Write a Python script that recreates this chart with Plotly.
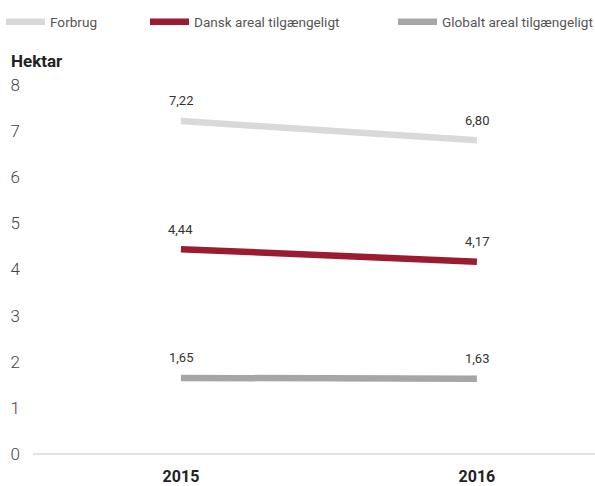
import plotly.graph_objects as go

years = ["2015", "2016"]
forbrug = [7.22, 6.80]
dansk = [4.44, 4.17]
globalt = [1.65, 1.63]
series_names = ["Forbrug", "Dansk areal tilgængeligt", "Globalt areal tilgængeligt"]
colors = ["#d9d9d9", "#9b1b30", "#a6a6a6"]

fig = go.Figure()
legend_keys = ["legend", "legend2", "legend3"]
xs = [0, 1]
for name, vals, col, lk in zip(series_names, [forbrug, dansk, globalt], colors, legend_keys):
    fig.add_trace(go.Scatter(
        x=xs, y=vals, name=name, mode="lines",
        line=dict(color=col, width=6.5),
        legend=lk, hoverinfo="skip",
    ))
    for xi, v in zip(xs, vals):
        fig.add_annotation(
            x=xi, y=v, text=f"{v:.2f}".replace(".", ","),
            showarrow=False, yshift=20,
            font=dict(family="Roboto", size=13, color="#333"),
        )

W = 562.0
H = 369.0
def px2paper(px):
    return (px - 33) / W
def py2paper(py):
    return 1.0 + (85 - py) / H

leg_common = dict(orientation="h", yanchor="middle", y=py2paper(22),
                  xanchor="left", font=dict(family="Roboto", size=13.6, color="#555"),
                  bgcolor="rgba(0,0,0,0)", itemwidth=39, tracegroupgap=0)
fig.update_layout(
    legend=dict(x=px2paper(1), **leg_common),
    legend2=dict(x=px2paper(145), **leg_common),
    legend3=dict(x=px2paper(393), **leg_common),
)

fig.add_annotation(
    x=px2paper(9), xref="paper", y=py2paper(61), yref="paper", text="<b>Hektar</b>",
    showarrow=False, xanchor="left", yanchor="middle",
    font=dict(family="Roboto", size=17, color="#222"),
)

fig.update_layout(
    width=595, height=486,
    margin=dict(l=33, r=0, t=85, b=32, autoexpand=False),
    paper_bgcolor="white", plot_bgcolor="white",
    separators=",.",
    showlegend=True,
    xaxis=dict(
        tickmode="array", tickvals=xs, ticktext=[f"<b>{y}</b>" for y in years],
        range=[-0.5, 1.399], showgrid=False, zeroline=False, automargin=False,
        tickfont=dict(family="Roboto", size=16, color="#222"),
        showline=False, ticks="", ticklabelstandoff=11,
    ),
    yaxis=dict(
        range=[0, 8], dtick=1, showgrid=False, automargin=False,
        zeroline=True, zerolinecolor="#e3e3e3", zerolinewidth=2,
        tickfont=dict(family="Roboto", size=17, color="#444", weight=300),
        ticklabelstandoff=12,
    ),
)

fig.write_html("out.html", config={"displayModeBar": False},
               post_script="document.body.style.margin='0';document.body.style.overflow='hidden';")
